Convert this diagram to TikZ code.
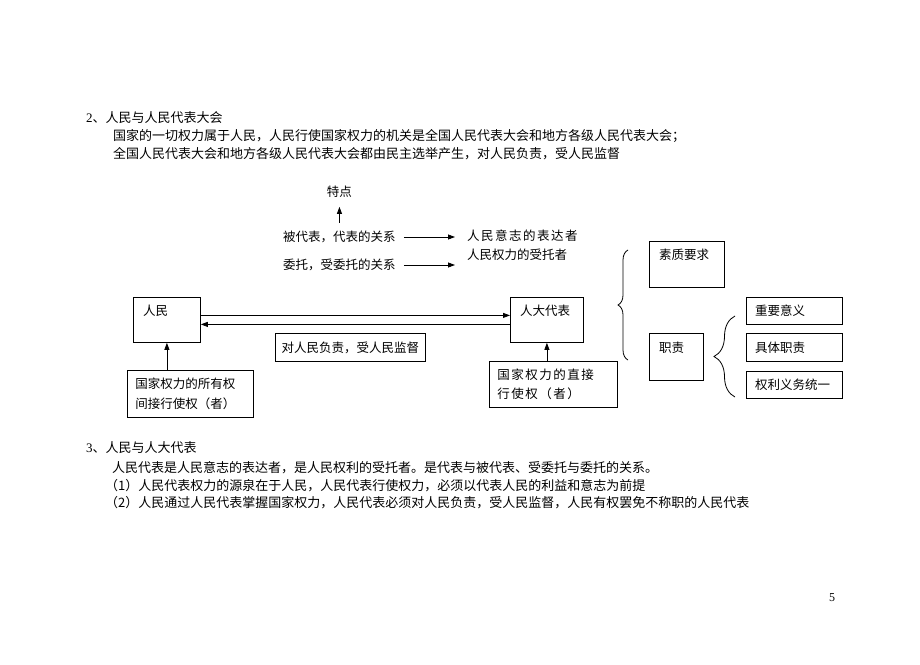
\documentclass[tikz,border=0pt]{standalone}
\usepackage{fontspec}
\setmainfont{Noto Sans CJK SC}
\newfontfamily\latfont{Liberation Serif}
\newfontfamily\widefont[LetterSpace=12]{Noto Sans CJK SC}
\usepackage{tikz}
\usetikzlibrary{positioning}
\usetikzlibrary{arrows.meta,decorations.pathreplacing}
\tikzset{
	% running text lines and framed boxes
	plain text/.style={anchor=west,inner sep=0},
	frame box/.style={draw,line width=0.8pt,anchor=north west,inner sep=0},
	inner tag/.style={anchor=north west,inner sep=0,xshift=10pt,yshift=-8pt},
	row tag/.style={anchor=west,inner sep=0,xshift=9pt},
	link arrow/.style={line width=0.8pt,-{Triangle[length=7pt,width=5pt]}},
	side brace/.style={decorate,decoration={brace,amplitude=#1},line width=0.8pt}
}

\begin{document}
\begin{tikzpicture}[x=1pt,y=-1pt,font=\fontsize{12.5}{19}\selectfont]
	% macro for one line of running text
	\newcommand{\textline}[3]{\node[plain text,font=\fontsize{13}{19}\selectfont](#1)at(#2){#3};}
	\fill[white] (0,0) rectangle (920,664);
	\useasboundingbox (0,0) rectangle (920,664);

	\textline{sec2}{86,118}{{\latfont 2}、人民与人民代表大会}
	\textline{sec2-1}{113,136}{国家的一切权力属于人民，人民行使国家权力的机关是全国人民代表大会和地方各级人民代表大会；}
	\textline{sec2-2}{113,154}{全国人民代表大会和地方各级人民代表大会都由民主选举产生，对人民负责，受人民监督}

	% relations and features
	\node[plain text](beidai)at(283,237){被代表，代表的关系};
	\node[plain text](weituo)at(283,265){委托，受委托的关系};
	\node[above=33pt of beidai,inner sep=0](tedian){特点};
	\node[plain text,font=\widefont\fontsize{12.5}{19}\selectfont](yizhi)at(467,236){人民意志的表达者};
	\node[plain text](shoutuo)at(467,255){人民权力的受托者};

	\draw[link arrow,shorten <=8pt,shorten >=9pt] (beidai) -- (tedian);
	\draw[link arrow] ([xshift=8pt]beidai.east) -- ([xshift=-12pt]yizhi.west |- beidai.east);
	\draw[link arrow] ([xshift=8pt]weituo.east) -- ([xshift=-12pt]yizhi.west |- weituo.east);

	% people and deputies
	\node[frame box,minimum width=67,minimum height=45,label={[inner tag]north west:人民}](renmin)at(133,297){};
	\node[frame box,minimum width=73,minimum height=45,label={[inner tag]north west:人大代表}](rendai)at(510,297){};
	\node[frame box,minimum width=150,minimum height=28,anchor=north west](fuze)at(275,333){对人民负责，受人民监督};
	\node[frame box,inner xsep=8,text width=110,minimum height=47,align=left,font=\fontsize{12.5}{20}\selectfont](suoyou)at(127,370){国家权力的所有权\\间接行使权（者）};
	\node[frame box,inner xsep=8,text width=112,minimum height=46,align=left,font=\widefont\fontsize{12.5}{19}\selectfont](zhijie)at(489,361){国家权力的直接\\行使权（者）};

	\draw[link arrow] ([yshift=4.5pt]renmin.east) -- ([yshift=4.5pt]rendai.west);
	\draw[link arrow] ([yshift=-4.5pt]rendai.west) -- ([yshift=-4.5pt]renmin.east);
	\draw[link arrow] (renmin.south |- suoyou.north) -- (renmin.south);
	\draw[link arrow] (rendai.south |- zhijie.north) -- (rendai.south);

	% quality and duties
	\node[frame box,minimum width=75,minimum height=46,label={[inner tag]north west:素质要求}](suzhi)at(649,241){};
	\node[frame box,minimum width=54,minimum height=47,label={[inner tag,yshift=-1pt]north west:职责}](zhize)at(649,333){};
	\node[frame box,minimum width=96,minimum height=27,label={[row tag]west:重要意义}](zhongyao)at(746,297){};
	\node[frame box,minimum width=96,minimum height=28,label={[row tag]west:具体职责}](juti)at(746,333){};
	\node[frame box,minimum width=96,minimum height=27,label={[row tag]west:权利义务统一}](tongyi)at(746,371){};

	\draw[side brace=10pt] (628,360) -- (628,250);
	\draw[side brace=21pt] (735,397) -- (735,316);

	\textline{sec3}{86,448}{{\latfont 3}、人民与人大代表}
	\textline{sec3-1}{112,468}{人民代表是人民意志的表达者，是人民权利的受托者。是代表与被代表、受委托与委托的关系。}
	\textline{sec3-2}{105,486}{（1）人民代表权力的源泉在于人民，人民代表行使权力，必须以代表人民的利益和意志为前提}
	\textline{sec3-3}{105,503}{（2）人民通过人民代表掌握国家权力，人民代表必须对人民负责，受人民监督，人民有权罢免不称职的人民代表}

	\node[plain text,font=\latfont\fontsize{12}{14}\selectfont](pagenum)at(829,598){5};
\end{tikzpicture}
\end{document}
